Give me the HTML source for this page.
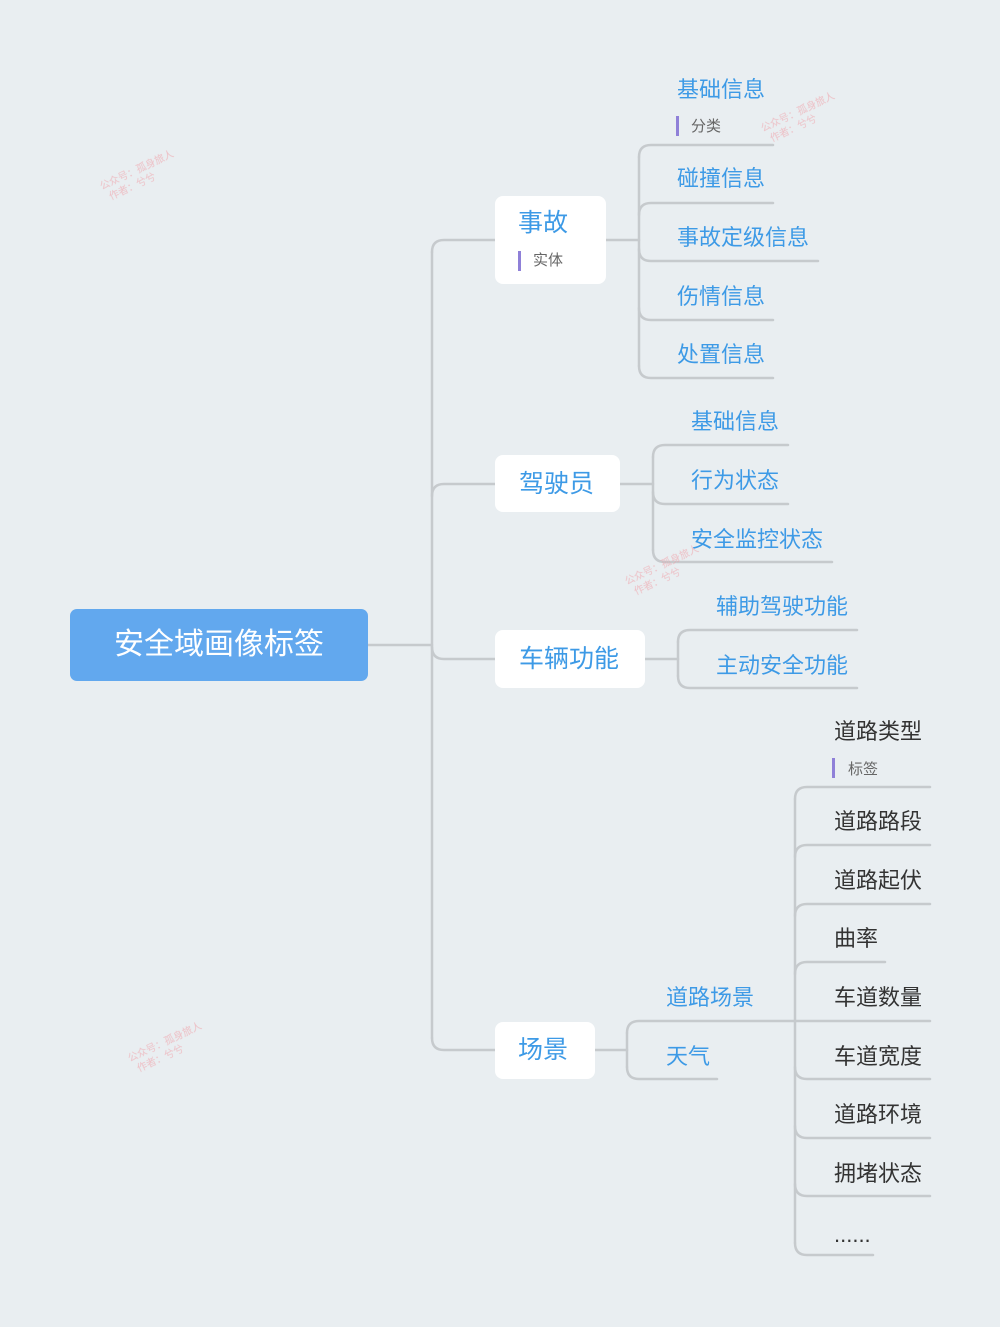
<!DOCTYPE html>
<html><head><meta charset="utf-8"><style>
html,body{margin:0;padding:0;background:#e9eef1;}
svg{display:block}
text{font-family:"Liberation Sans","Noto Sans CJK SC",sans-serif;}
.b{fill:#3d9ae6;font-size:22px}
.d{fill:#333;font-size:22px}
.n{fill:#3d9ae6;font-size:25px}
.l{fill:#666;font-size:15px}
.w{fill:#f0a0a8;font-size:10px;opacity:.6}
</style></head><body>
<svg width="1000" height="1327" viewBox="0 0 1000 1327" xmlns="http://www.w3.org/2000/svg">
<rect width="1000" height="1327" fill="#e9eef1"/>
<g fill="none" stroke="#c6cacd" stroke-width="2.5" stroke-linecap="round">
<!-- trunk -->
<path d="M368,645 L432,645"/>
<path d="M432,252 L432,1038"/>
<path d="M432,252 Q432,240 444,240 L495,240"/>
<path d="M432,496 Q432,484 444,484 L495,484"/>
<path d="M432,647 Q432,659 444,659 L495,659"/>
<path d="M432,1038 Q432,1050 444,1050 L495,1050"/>
<!-- 事故 -->
<path d="M606,240 L639,240"/>
<path d="M639,157 L639,366"/>
<path d="M639,157 Q639,145 651,145 L773,145"/>
<path d="M639,215 Q639,203 651,203 L773,203"/>
<path d="M639,249 Q639,261 651,261 L818,261"/>
<path d="M639,308 Q639,320 651,320 L773,320"/>
<path d="M639,366 Q639,378 651,378 L773,378"/>
<!-- 驾驶员 -->
<path d="M620,484 L653,484"/>
<path d="M653,457 L653,550"/>
<path d="M653,457 Q653,445 665,445 L788,445"/>
<path d="M653,492 Q653,504 665,504 L788,504"/>
<path d="M653,550 Q653,562 665,562 L832,562"/>
<!-- 车辆功能 -->
<path d="M645,659 L678,659"/>
<path d="M678,642 L678,676"/>
<path d="M678,642 Q678,630 690,630 L857,630"/>
<path d="M678,676 Q678,688 690,688 L857,688"/>
<!-- 场景 -->
<path d="M595,1050 L627,1050"/>
<path d="M627,1033 L627,1067"/>
<path d="M627,1033 Q627,1021 639,1021 L930,1021"/>
<path d="M627,1067 Q627,1079 639,1079 L717,1079"/>
<!-- 道路场景 children -->
<path d="M795,799 L795,1243"/>
<path d="M795,799 Q795,787 807,787 L930,787"/>
<path d="M795,857 Q795,845 807,845 L930,845"/>
<path d="M795,916 Q795,904 807,904 L930,904"/>
<path d="M795,974 Q795,962 807,962 L885,962"/>
<path d="M795,1067 Q795,1079 807,1079 L930,1079"/>
<path d="M795,1126 Q795,1138 807,1138 L930,1138"/>
<path d="M795,1184 Q795,1196 807,1196 L930,1196"/>
<path d="M795,1243 Q795,1255 807,1255 L873,1255"/>
</g>
<!-- root -->
<rect x="70" y="609" width="298" height="72" rx="7" fill="#62a8ee"/>
<text x="219" y="654" text-anchor="middle" fill="#fff" font-size="30">安全域画像标签</text>
<!-- nodes -->
<rect x="495" y="196" width="111" height="88" rx="8" fill="#fff"/>
<text x="518" y="231" class="n">事故</text>
<rect x="518" y="251" width="3" height="20" fill="#8f80d8"/>
<text x="533" y="265" class="l">实体</text>
<rect x="495" y="455" width="125" height="57" rx="8" fill="#fff"/>
<text x="519" y="492" class="n">驾驶员</text>
<rect x="495" y="630" width="150" height="58" rx="8" fill="#fff"/>
<text x="519" y="667" class="n">车辆功能</text>
<rect x="495" y="1022" width="100" height="57" rx="8" fill="#fff"/>
<text x="518" y="1058" class="n">场景</text>
<!-- 事故 leaves -->
<text x="677" y="97" class="b">基础信息</text>
<rect x="676" y="116" width="3" height="20" fill="#8f80d8"/>
<text x="691" y="131" class="l">分类</text>
<text x="677" y="186" class="b">碰撞信息</text>
<text x="677" y="245" class="b">事故定级信息</text>
<text x="677" y="304" class="b">伤情信息</text>
<text x="677" y="362" class="b">处置信息</text>
<!-- 驾驶员 leaves -->
<text x="691" y="429" class="b">基础信息</text>
<text x="691" y="488" class="b">行为状态</text>
<text x="691" y="547" class="b">安全监控状态</text>
<!-- 车辆 -->
<text x="716" y="614" class="b">辅助驾驶功能</text>
<text x="716" y="673" class="b">主动安全功能</text>
<!-- 场景 -->
<text x="666" y="1005" class="b">道路场景</text>
<text x="666" y="1064" class="b">天气</text>
<text x="834" y="739" class="d">道路类型</text>
<rect x="832" y="758" width="3" height="20" fill="#8f80d8"/>
<text x="848" y="774" class="l">标签</text>
<text x="834" y="829" class="d">道路路段</text>
<text x="834" y="888" class="d">道路起伏</text>
<text x="834" y="946" class="d">曲率</text>
<text x="834" y="1005" class="d">车道数量</text>
<text x="834" y="1064" class="d">车道宽度</text>
<text x="834" y="1122" class="d">道路环境</text>
<text x="834" y="1181" class="d">拥堵状态</text>
<text x="834" y="1242" class="d" font-size="16">......</text>
<!-- watermarks -->
<g class="w">
<text transform="translate(102,190) rotate(-25)">公众号：孤身旅人<tspan x="4" dy="13">作者：兮兮</tspan></text>
<text transform="translate(763,132) rotate(-25)">公众号：孤身旅人<tspan x="4" dy="13">作者：兮兮</tspan></text>
<text transform="translate(627,585) rotate(-25)">公众号：孤身旅人<tspan x="4" dy="13">作者：兮兮</tspan></text>
<text transform="translate(130,1062) rotate(-25)">公众号：孤身旅人<tspan x="4" dy="13">作者：兮兮</tspan></text>
</g>
</svg>
</body></html>
